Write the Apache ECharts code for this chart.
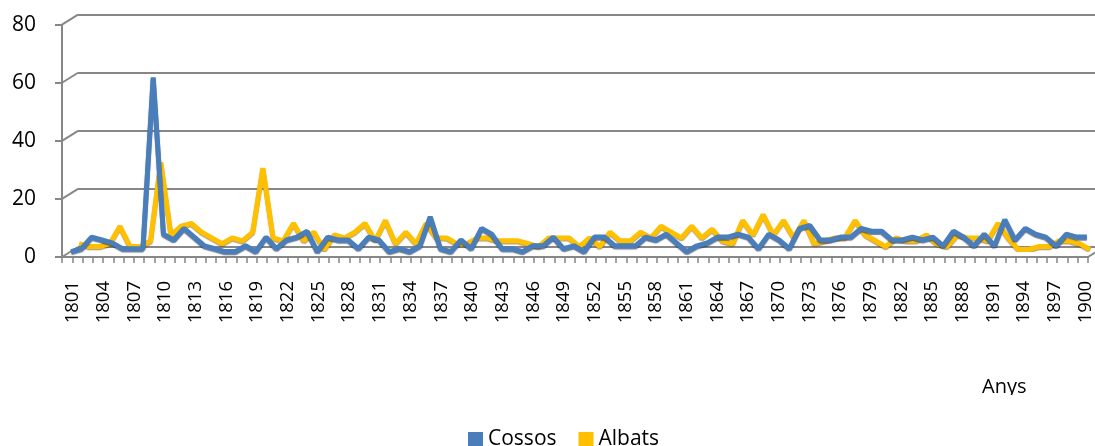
<!DOCTYPE html>
<html><head><meta charset="utf-8">
<script src="https://cdn.jsdelivr.net/npm/echarts@6/dist/echarts.min.js"></script>
<style>html,body{margin:0;padding:0;background:#fff}#c{width:1095px;height:446px}</style>
</head><body><div id="c"></div>
<script>
// ---- data ----
const years = [];
for (let y = 1801; y <= 1900; y++) years.push(String(y));
const cossos = [1,2,6,5,4,2,2,2,61,7,5,9,6,3,2,1,1,3,1,6,
                2,5,6,8,1,6,5,5,2,6,5,1,2,1,3,13,2,1,5,2,
                9,7,2,2,1,3,3,6,2,3,1,6,6,3,3,3,6,5,7,4,
                1,3,4,6,6,7,6,2,7,5,2,9,10,5,5,6,6,9,8,8,
                5,5,6,5,6,3,8,6,3,7,3,12,5,9,7,6,3,7,6,6];
const albats = [2,1,1,2,8,1,1,3,30,5,8,9,6,4,2,4,3,6,28,4,
                3,9,3,6,0,5,4,6,9,3,10,2,6,2,9,4,4,2,2,4,
                4,3,3,3,2,1,4,4,4,1,4,1,6,3,3,6,4,8,6,4,
                8,4,7,3,2,10,5,12,5,10,4,10,2,3,4,4,10,5,3,1,
                4,3,3,5,2,1,5,4,4,3,9,4,0,0,1,1,3,3,2,0];
const yTicks = [0, 20, 40, 60, 80];
const seriesNames = ['Cossos', 'Albats'];
const axisTitle = 'Anys';

// ---- layout ----
const F = {left: 62, top: 24.7, width: 1026, height: 232.3};
const D = {dx: 16, dy: -10};
const LBL_DX = 6;
const GRAY = '#878787';
function gridAt(f, dxOff) {
  return {left: F.left + D.dx * f + (dxOff || 0), top: F.top + D.dy * f, width: F.width, height: F.height, containLabel: false};
}
const font = '"Open Sans", "Liberation Sans", sans-serif';

const chart = echarts.init(document.getElementById('c'), null, {renderer: 'canvas'});
const hiddenX = (g) => ({type: 'category', gridIndex: g, data: years, boundaryGap: true, show: false});
const hiddenY = (g) => ({type: 'value', gridIndex: g, min: 0, max: 80, interval: 20, show: false});

chart.setOption({
  backgroundColor: '#fff',
  animation: false,
  textStyle: {fontFamily: font},
  grid: [gridAt(0), gridAt(1), gridAt(0.25), gridAt(0.75), gridAt(0, LBL_DX)],
  xAxis: [
    {type: 'category', gridIndex: 0, data: years, boundaryGap: true,
     axisLine: {lineStyle: {color: GRAY, width: 2}},
     axisTick: {show: true, interval: 0, length: 6, lineStyle: {color: GRAY, width: 1.5}},
     axisLabel: {show: false}, splitLine: {show: false}},
    hiddenX(1), hiddenX(2), hiddenX(3),
    {type: 'category', gridIndex: 4, data: years, boundaryGap: true,
     axisLine: {show: false}, axisTick: {show: false},
     axisLabel: {show: true, interval: 2, rotate: 90, fontSize: 18.5, color: '#000', margin: 24, fontFamily: font}}
  ],
  yAxis: [
    {type: 'value', gridIndex: 0, min: 0, max: 80, interval: 20,
     axisLine: {show: true, lineStyle: {color: GRAY, width: 2}},
     axisTick: {show: true, length: 7, lineStyle: {color: GRAY, width: 2}},
     axisLabel: {show: true, fontSize: 21, color: '#000', margin: 26, fontFamily: font},
     splitLine: {show: false}},
    {type: 'value', gridIndex: 1, min: 0, max: 80, interval: 20,
     axisLine: {show: false}, axisTick: {show: false}, axisLabel: {show: false},
     splitLine: {show: true, lineStyle: {color: GRAY, width: 2}}},
    hiddenY(2), hiddenY(3), hiddenY(4)
  ],
  legend: {
    data: seriesNames, icon: 'rect', itemWidth: 15, itemHeight: 15, itemGap: 22,
    left: 463, top: 424, textStyle: {fontSize: 21, color: '#000', fontFamily: font}
  },
  series: [
    {name: seriesNames[1], type: 'line', xAxisIndex: 3, yAxisIndex: 3, data: albats,
     symbol: 'none', z: 3, color: '#FFC000',
     lineStyle: {width: 5, color: '#FFC000', shadowColor: 'rgba(120,80,0,0.55)', shadowBlur: 1, shadowOffsetY: 1.2}},
    {name: seriesNames[0], type: 'line', xAxisIndex: 2, yAxisIndex: 2, data: cossos,
     symbol: 'none', z: 4, color: '#4A7EBB',
     lineStyle: {width: 5, color: '#4A7EBB', shadowColor: 'rgba(20,40,80,0.6)', shadowBlur: 1, shadowOffsetY: 1.2}}
  ]
});

// depth connectors (from front axis to back wall), positions from the axis scales
const gfx = [];
yTicks.forEach(v => {
  const yF = chart.convertToPixel({yAxisIndex: 0}, v);
  const yB = chart.convertToPixel({yAxisIndex: 1}, v);
  gfx.push({type: 'line', z: 1, shape: {x1: F.left, y1: yF, x2: F.left + D.dx, y2: yB},
            style: {stroke: GRAY, lineWidth: 2}});
});
const y0F = chart.convertToPixel({yAxisIndex: 0}, 0);
const y0B = chart.convertToPixel({yAxisIndex: 1}, 0);
gfx.push({type: 'line', z: 1, shape: {x1: F.left + F.width, y1: y0F, x2: F.left + F.width + D.dx, y2: y0B},
          style: {stroke: GRAY, lineWidth: 2}});
// axis title (partly cut off at the bottom as in the original)
gfx.push({type: 'text', z: 10, left: 982, top: 377,
          style: {text: axisTitle, font: '20px ' + font, fill: '#000'}});
gfx.push({type: 'rect', z: 11, shape: {x: 960, y: 395, width: 100, height: 22}, style: {fill: '#fff'}});
chart.setOption({graphic: gfx});
</script></body></html>
